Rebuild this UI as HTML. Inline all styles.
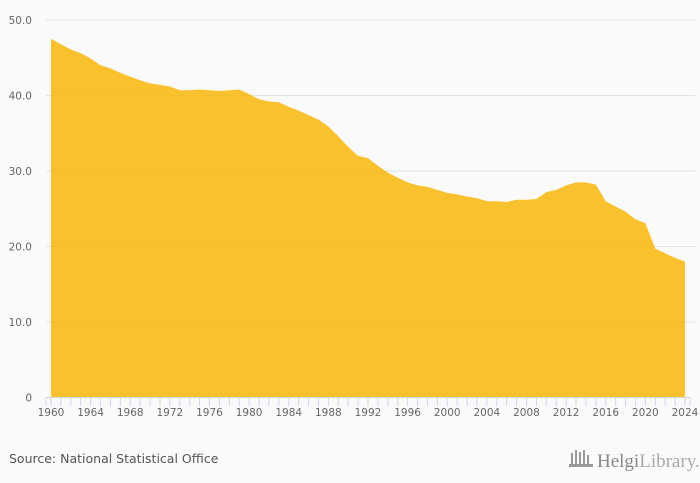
<!DOCTYPE html>
<html><head><meta charset="utf-8"><style>
body{margin:0;background:#fafafa;font-family:"DejaVu Sans","Liberation Sans",sans-serif;}
svg{display:block}
</style></head><body>
<svg width="700" height="483">
<g id="grid"></g><g id="area"></g><g id="axes"></g>
<text x="9" y="463" font-size="12.5" fill="#555">Source: National Statistical Office</text>
<g>
<g fill="#999"><rect x="571" y="453" width="2" height="13"/><rect x="575" y="450" width="2" height="16"/><rect x="579" y="452" width="2" height="14"/><rect x="583" y="450" width="2" height="16"/><rect x="587" y="455" width="2" height="11"/><rect x="569" y="464" width="24" height="3"/></g>
<text x="597" y="467" font-size="19" fill="#888" font-family="Liberation Serif,serif">Helgi<tspan fill="#aaa">Library.</tspan></text>
</g>
</svg>
<script>
const years=[];for(let y=1960;y<=2024;y++)years.push(y);
const values=[47.5,46.8,46.1,45.6,44.9,44.0,43.6,43.0,42.5,42.0,41.6,41.4,41.2,40.7,40.7,40.8,40.7,40.6,40.7,40.8,40.2,39.5,39.2,39.1,38.5,38.0,37.4,36.8,35.9,34.6,33.2,32.0,31.7,30.7,29.8,29.1,28.5,28.1,27.9,27.5,27.1,26.9,26.6,26.4,26.0,26.0,25.9,26.2,26.2,26.3,27.2,27.5,28.1,28.5,28.5,28.2,26.0,25.3,24.6,23.6,23.1,19.7,19.1,18.5,18.0];
const yTicks=[0,10,20,30,40,50];
const yTickLabels=["0","10.0","20.0","30.0","40.0","50.0"];
const NS="http://www.w3.org/2000/svg";
const x=v=>51+(v-1960)*(634/64);
const y=v=>397.5-v*7.55;
function mk(t,a,p){const e=document.createElementNS(NS,t);for(const k in a)e.setAttribute(k,a[k]);p.appendChild(e);return e;}
const grid=document.getElementById('grid'),area=document.getElementById('area'),axes=document.getElementById('axes');
yTicks.forEach((t,i)=>{
 if(t>0){const l=mk('line',{x1:46,x2:695,y1:y(t),y2:y(t),stroke:'#e3e3e3'},grid);
 
 }
 const tx=mk('text',{x:32,y:y(t)+4,'font-size':10.5,fill:'#666','text-anchor':'end'},axes);tx.textContent=yTickLabels[i];
 
 
});
let d='M'+x(years[0])+','+y(0);
years.forEach((yr,i)=>{d+=' L'+x(yr).toFixed(2)+','+y(values[i]).toFixed(2);});
d+=' L'+x(years[years.length-1])+','+y(0)+' Z';
const p=mk('path',{d:d,fill:'#f9b500','fill-opacity':0.82},area);


mk('line',{x1:46,x2:690,y1:397.5,y2:397.5,stroke:'#ccd6eb'},axes);
for(let yr=1959;yr<=2025;yr++){
 const xx=yr===1959?46:(yr===2025?690:x(yr));
 mk('line',{x1:xx,x2:xx,y1:397.5,y2:406,stroke:'#ccd6eb'},axes);
}
years.filter(v=>v%4===0).forEach(yr=>{
 const t=mk('text',{x:x(yr),y:416,'font-size':10.5,fill:'#666','text-anchor':'middle'},axes);t.textContent=yr;
 
 
});
</script>
</body></html>
